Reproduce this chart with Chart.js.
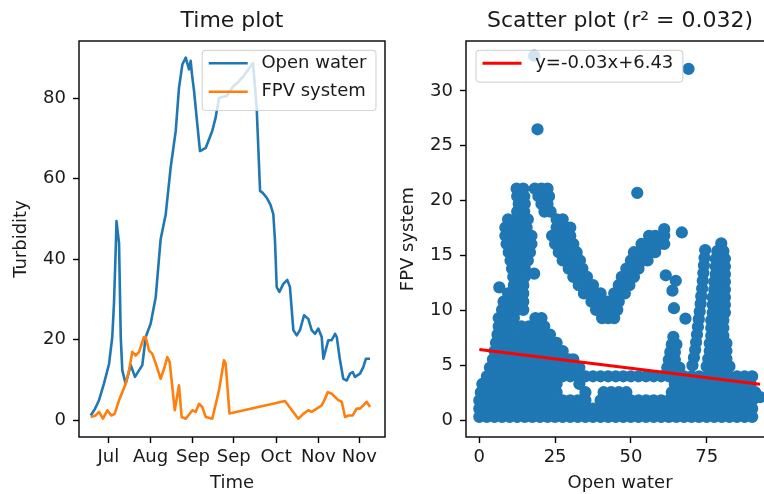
<!DOCTYPE html>
<html>
<head>
<meta charset="utf-8">
<script src="https://cdn.jsdelivr.net/npm/chart.js@4.4.1/dist/chart.umd.min.js"></script>
<style>
  html, body { margin: 0; padding: 0; background: #fff; overflow: hidden; width: 764px; height: 494px; }
  #wrap { position: relative; width: 764px; height: 494px; overflow: hidden; }
  canvas { position: absolute; top: 0; }
  #timeCanvas { left: 0; }
  #scatterCanvas { left: 387px; }
</style>
</head>
<body>
<div id="wrap">
  <canvas id="timeCanvas" width="400" height="494"></canvas>
  <canvas id="scatterCanvas" width="403" height="494"></canvas>
</div>
<script>
// ---------- Time series (day index from start of record, turbidity) ----------
const openWaterDays = [0.5, 3.5, 6.4, 9.9, 13.5, 15.8, 17, 18.2, 18.8, 19.6, 20.6, 21.8, 22.9, 25.3, 28.9, 31.9, 37.1, 39.5, 43, 46.6, 50.1, 53.7, 57.2, 60.8, 63.1, 65.5, 67.9, 69.2, 70.2, 71.4, 72.3, 73.8, 76.1, 78, 82.1, 86.7, 89.1, 91.5, 94.3, 97, 101.4, 105, 108.5, 112, 114.7, 115.6, 118.2, 120.6, 122.5, 125.3, 128, 130, 131.2, 132.4, 134.3, 137.1, 139.9, 141.8, 144.2, 146.6, 148.9, 151.8, 154.8, 157.2, 159.6, 161.9, 164.3, 165.5, 169, 171.4, 173.8, 175, 177.3, 179.6, 182.1, 184.4, 186.3, 187.9, 191.5, 193.8, 195.7, 198.6];
const openWaterTurbidity = [1.2, 2.8, 5.0, 9.1, 14.0, 20.7, 29, 42, 49.5, 47, 44, 20.7, 12.4, 9.1, 13.7, 10.8, 13.7, 20.7, 24, 30.6, 45, 51.2, 62.8, 71.9, 82.6, 88.4, 90.1, 88.5, 87.2, 89.3, 86, 81.8, 73.5, 66.9, 67.7, 71.9, 75.2, 80.1, 80.4, 80.6, 82.9, 84, 85.4, 87, 88.4, 88.7, 77.7, 57, 56.5, 55.3, 53.5, 51.2, 44.5, 33.1, 31.9, 33.9, 34.9, 33.1, 22.4, 21.1, 22.4, 26.1, 25.2, 22.4, 21.5, 22.8, 20.7, 15.3, 19.9, 19.9, 21.5, 20.7, 14.9, 10.3, 9.9, 11.6, 12, 10.8, 11.6, 13.2, 15.3, 15.3];

const fpvDays = [0.5, 4, 6.4, 9.2, 12.3, 15.1, 17.5, 20.6, 25.3, 27.7, 30, 32.4, 34.8, 38.3, 39.5, 41.8, 44.2, 47, 50.1, 52.5, 54.8, 56.5, 60.1, 63.1, 65, 67.9, 72.6, 75, 77.3, 79.6, 82.1, 86.7, 91.5, 95, 96.2, 98.9, 138.3, 147.7, 151.3, 154.8, 157.2, 160.8, 164.3, 166.2, 168.6, 171.4, 173.8, 176.1, 178.5, 180.9, 183.2, 186.3, 189.1, 191.5, 193.8, 196.2, 198.6];
const fpvTurbidity = [0.8, 1.2, 2.1, 0.4, 2.5, 1.2, 1.6, 5, 9.1, 12.4, 17, 16.1, 17, 20.7, 20.7, 17.4, 16.5, 13.7, 10.3, 12.8, 15.7, 14.5, 2.5, 8.7, 0.8, 0.4, 2.5, 2.1, 4.1, 3.3, 0.8, 0.4, 7.5, 14.9, 14.1, 1.7, 4.8, 0.4, 1.6, 2.5, 2.1, 2.9, 3.7, 5, 7, 6.6, 5.8, 5, 4.6, 0.8, 1.2, 1.2, 2.9, 2.9, 3.7, 4.6, 3.3];

const timeTickDays = [13, 43, 73, 102, 132, 162, 191];
const timeTickLabels = ['Jul', 'Aug', 'Sep', 'Sep', 'Oct', 'Nov', 'Nov'];
const turbidityTicks = [0, 20, 40, 60, 80];

// ---------- Scatter: open water (x) vs FPV system (y) ----------
// rows: [FPV value, [open water values at that FPV level]]
const bottomRows = [
  [0.3,  [0, 2.5, 5, 7.5, 10, 12.5, 15, 17.5, 20, 22.5, 25, 27.5, 30, 32.5, 35, 37.5, 40, 42.5, 45, 47.5, 50, 52.5, 55, 57.5, 60, 62.5, 65, 67.5, 70, 72.5, 75, 77.5, 80, 82.5, 85, 87.5, 90]],
  [1.05, [0, 2.5, 5, 7.5, 10, 12.5, 15, 17.5, 20, 22.5, 25, 27.5, 30, 32.5, 35, 37.5, 40, 42.5, 45, 47.5, 50, 52.5, 55, 57.5, 60, 62.5, 65, 67.5, 70, 72.5, 75, 77.5, 80, 82.5, 85, 87.5, 90]],
  [1.8,  [0, 2.5, 5, 7.5, 10, 12.5, 15, 17.5, 20, 22.5, 25, 27.5, 30, 32.5, 35, 40, 42.5, 45, 47.5, 50, 52.5, 55, 57.5, 60, 62.5, 65, 67.5, 70, 72.5, 75, 77.5, 80, 82.5, 85, 87.5, 90]],
  [2.55, [0.5, 3, 5.5, 8, 10.5, 13, 15.5, 18, 20.5, 23, 25.5, 35, 41, 43.5, 46, 48.5, 63.5, 66, 68.5, 71, 73.5, 76, 78.5, 81, 83.5, 86, 88.5, 91]],
  [3.3,  [1, 3.5, 6, 8.5, 11, 13.5, 16, 18.5, 21, 23.5, 25.5, 33, 64.5, 67, 69.5, 72, 74.5, 77, 79.5, 82, 84.5, 87, 89.5]],
  [4.0,  [2.5, 5, 7.5, 10, 12.5, 15, 17.5, 20, 22.5, 25, 27.5, 30, 32.5, 35, 37.5, 40, 42.5, 45, 47.5, 50, 52.5, 55, 57.5, 60, 62.5, 65, 67.5, 70, 72.5, 75, 77.5, 80, 82.5, 85, 87.5, 90]]
];
const leftBlobRows = [
  [4.8,   [3.5, 6, 8.5, 11, 13.5, 16, 18.5, 21, 23.5, 26, 28.5, 31, 33]],
  [5.55,  [4.5, 7, 9.5, 12, 14.5, 17, 19.5, 22, 24.5, 27, 29.5, 31]],
  [6.3,   [5, 7.5, 10, 12.5, 15, 17.5, 20, 22.5, 25, 27.5]],
  [7.05,  [5.5, 8, 10.5, 13, 15.5, 18, 20.5, 23, 25.5]],
  [7.8,   [6, 8.5, 11, 13.5, 16, 18.5, 21, 23.3]],
  [8.55,  [6.4, 8.9, 11.4, 13.9, 16.4, 18.9, 21.4]],
  [9.3,   [6.4, 8.9, 11.4, 18.5, 20.5]],
  [10.05, [7.5, 10, 12.5, 14.5]],
  [10.8,  [8, 10.5, 13, 14.5]],
  [11.55, [9.5, 12, 14.5]],
  [12.3,  [11.4, 13.2, 14.5]],
  [13.05, [11.2, 13.5, 15]],
  [13.8,  [10.8, 13, 15]],
  [14.55, [10.3, 12.7, 15, 16]],
  [15.3,  [9.7, 12.2, 14.7, 16.7]],
  [16.05, [9, 11.5, 14, 16.5, 17.2]],
  [16.8,  [8.6, 11, 13.5, 16, 17.2]],
  [17.55, [8.6, 11, 13.5, 15.6]],
  [18.3,  [9.5, 12, 14.5, 16]],
  [19.0,  [12.5, 14.8, 21.5, 23.5]],
  [19.7,  [13, 15, 20.5, 22.5]],
  [20.4,  [12.5, 14.8, 19.5, 21.5, 23]],
  [21.1,  [12.3, 14.5, 18.3, 20.5, 22.5]]
];
const fallingArmRows = [
  [18.3,  [25.5, 27.5]],
  [17.55, [25.5, 28, 30]],
  [16.8,  [24, 26, 28, 30]],
  [16.05, [25, 27, 29, 31]],
  [15.3,  [26.2, 28.2, 30.2, 32.1]],
  [14.55, [27.5, 29.5, 31.5, 33.2]],
  [13.8,  [29.5, 31.5, 34]],
  [13.05, [31, 33, 35.5]],
  [12.3,  [32.8, 35, 37.5]],
  [11.55, [34.5, 36.5, 38.5, 40]],
  [10.8,  [37, 39, 41, 42]],
  [10.05, [38.5, 40.5, 42.5, 44]],
  [9.3,   [40.5, 42.5, 44.5]]
];
const risingArmRows = [
  [10.05, [45.5]],
  [10.8,  [44, 46]],
  [11.55, [44.5, 46.5, 48]],
  [12.3,  [46, 48, 49.5]],
  [13.05, [47, 49, 51]],
  [13.8,  [48.5, 50.5, 52.5]],
  [14.55, [50, 52, 54, 55.5]],
  [15.3,  [51, 53, 55, 57, 58]],
  [16.05, [53.5, 55.5, 57.5, 59.5, 61]],
  [16.8,  [56, 58, 60, 61]]
];
const midColumnRows = [
  [7.6, [64]], [6.9, [63.5, 65]], [6.2, [63, 64.5]], [5.5, [62.5, 64.5]], [4.8, [62, 64, 66]]
];
const denseColumnRows = [
  [16.1, [79.8]], [15.4, [78.5, 80.5]], [14.7, [78, 80, 81]], [14.0, [78, 80, 81]], [13.3, [78, 80, 81]],
  [12.6, [77.5, 79.5, 81]], [11.9, [77.5, 79.5, 81]], [11.2, [77, 79, 81]], [10.5, [77, 79, 81]],
  [9.8, [77, 79, 81]], [9.1, [76.5, 78.5, 80.5]], [8.4, [76.5, 78.5, 80.5]], [7.7, [76.5, 78.5, 80.5]],
  [7.0, [76, 78, 80, 81.5]], [6.3, [76, 78, 80, 81.5]], [5.6, [75.5, 77.5, 79.5, 81.5]], [4.9, [75, 77, 79, 81, 82.5]]
];
// [open water, FPV system]
const chainColumn = [[74.5, 15.5], [74.3, 14.8], [74.1, 14.1], [73.9, 13.4], [73.7, 12.7], [73.5, 12.0], [73.2, 11.3], [73.0, 10.6], [72.7, 9.9], [72.4, 9.2], [72.1, 8.5], [71.8, 7.8], [71.5, 7.1], [71.2, 6.4], [70.8, 5.7], [70.3, 5.0]];
const strayPoints = [[18.1, 33.2], [19.2, 26.5], [69, 32], [52.1, 20.7], [61, 17.4], [66.8, 17.1], [61.5, 13.2], [64.8, 12.7], [63.7, 11.8], [64.2, 10.2], [68, 9.25], [6.6, 12.1], [18.1, 13.35], [92.6, 2.1]];

const regressionSlope = -0.034;
const regressionIntercept = 6.43;
const rSquared = 0.032;
const scatterXTicks = [0, 25, 50, 75];
const scatterYTicks = [0, 5, 10, 15, 20, 25, 30];

// ---------- helpers ----------
const TEXT = '#1a1a1a';
const BLUE = '#1f77b4';
const ORANGE = '#ff7f0e';
Chart.defaults.font.family = "'DejaVu Sans', sans-serif";
Chart.defaults.color = TEXT;

const zipXY = (xs, ys) => xs.map((x, i) => ({ x, y: ys[i] }));
const fromRows = rows => rows.flatMap(([fpv, opens]) => opens.map(x => ({ x, y: fpv })));
const fromPairs = pairs => pairs.map(([x, y]) => ({ x, y }));

function axis({ position, min, max, ticks, labels, title, size }) {
  const horizontal = position === 'bottom';
  return {
    type: 'linear',
    position, min, max,
    afterBuildTicks: s => { s.ticks = ticks.map(v => ({ value: v })); },
    afterFit: s => { if (horizontal) s.height = size; else s.width = size; },
    grid: { drawOnChartArea: false, drawTicks: true, tickLength: 6, tickWidth: 1.4, tickColor: '#000' },
    border: { display: false },
    ticks: {
      autoSkip: false, maxRotation: 0, minRotation: 0,
      padding: horizontal ? 4 : 7,
      font: { size: 18 }, color: TEXT,
      callback: labels ? (v, i) => labels[i] : v => String(v)
    },
    title: {
      display: true, text: title, font: { size: 18 }, color: TEXT,
      padding: horizontal ? { top: 0, bottom: 0 } : { top: 10.5, bottom: 0 }
    }
  };
}

// axes box drawn on all four sides
const frame = {
  id: 'frame',
  afterDatasetsDraw(chart) {
    const { ctx, chartArea: a } = chart;
    ctx.save();
    ctx.strokeStyle = '#000';
    ctx.lineWidth = 1.4;
    ctx.strokeRect(a.left, a.top, a.right - a.left, a.bottom - a.top);
    ctx.restore();
  }
};

// legend box placed inside the plotting area
const boxLegend = {
  id: 'boxLegend',
  afterDraw(chart, args, opts) {
    const { ctx, chartArea: a } = chart;
    const items = opts.datasets.map(i => chart.data.datasets[i]);
    ctx.save();
    ctx.font = "18px 'DejaVu Sans', sans-serif";
    const textW = Math.max(...items.map(d => ctx.measureText(d.label).width));
    const pad = 6.5, handle = 39, gap = 13.7, padR = 9.5;
    const w = pad + handle + gap + textW + padR;
    const h = 13 + (items.length - 1) * 28.4 + 18.8;
    const x = opts.corner === 'ne' ? a.right - 9 - w : a.left + 10;
    const y = a.top + 9.3;
    ctx.beginPath();
    ctx.roundRect(x, y, w, h, 3.5);
    ctx.fillStyle = 'rgba(255,255,255,0.8)';
    ctx.fill();
    ctx.strokeStyle = 'rgba(204,204,204,0.8)';
    ctx.lineWidth = 1.2;
    ctx.stroke();
    items.forEach((d, i) => {
      const cy = y + 13 + i * 28.4;
      ctx.strokeStyle = d.borderColor;
      ctx.lineWidth = d.borderWidth;
      ctx.beginPath();
      ctx.moveTo(x + pad, cy);
      ctx.lineTo(x + pad + handle, cy);
      ctx.stroke();
      ctx.fillStyle = TEXT;
      ctx.textBaseline = 'middle';
      ctx.textAlign = 'left';
      ctx.fillText(d.label, x + pad + handle + gap, cy);
    });
    ctx.restore();
  }
};

const titleOpts = text => ({
  display: true, text, fullSize: false, color: TEXT,
  font: { size: 22, weight: 'normal' },
  padding: { top: 8.2, bottom: 6.4 }
});

// ---------- time plot ----------
new Chart(document.getElementById('timeCanvas'), {
  type: 'line',
  data: {
    datasets: [
      { label: 'Open water', data: zipXY(openWaterDays, openWaterTurbidity), borderColor: BLUE, borderWidth: 2.6,
        pointRadius: 0, tension: 0, borderJoinStyle: 'round', fill: false, order: 1 },
      { label: 'FPV system', data: zipXY(fpvDays, fpvTurbidity), borderColor: ORANGE, borderWidth: 2.6,
        pointRadius: 0, tension: 0, borderJoinStyle: 'round', fill: false, order: 0 }
    ]
  },
  options: {
    responsive: false, animation: false, devicePixelRatio: 1,
    layout: { padding: { left: 0, right: 15, top: 0, bottom: 0 } },
    scales: {
      x: axis({ position: 'bottom', min: -7.8, max: 209.2, ticks: timeTickDays, labels: timeTickLabels, title: 'Time', size: 57 }),
      y: axis({ position: 'left', min: -4.15, max: 94.24, ticks: turbidityTicks, title: 'Turbidity', size: 79 })
    },
    plugins: {
      legend: { display: false },
      tooltip: { enabled: false },
      title: titleOpts('Time plot'),
      boxLegend: { datasets: [0, 1], corner: 'ne' }
    }
  },
  plugins: [frame, boxLegend]
});

// ---------- scatter plot ----------
const scatterPoints = [
  ...fromRows(bottomRows), ...fromRows(leftBlobRows), ...fromRows(fallingArmRows),
  ...fromRows(risingArmRows), ...fromRows(midColumnRows), ...fromRows(denseColumnRows),
  ...fromPairs(chainColumn), ...fromPairs(strayPoints)
];
const xs = scatterPoints.map(p => p.x);
const fitX = [Math.min(...xs), Math.max(...xs)];
const fitLine = fitX.map(x => ({ x, y: regressionSlope * x + regressionIntercept }));
const fitLabel = `y=${regressionSlope.toFixed(2)}x+${regressionIntercept.toFixed(2)}`;

new Chart(document.getElementById('scatterCanvas'), {
  type: 'scatter',
  data: {
    datasets: [
      { type: 'line', label: fitLabel, data: fitLine, borderColor: '#ff0000', borderWidth: 3,
        pointRadius: 0, fill: false, order: 0 },
      { label: 'points', data: scatterPoints, backgroundColor: BLUE, borderColor: BLUE,
        pointRadius: 5.25, borderWidth: 1.75, order: 1 }
    ]
  },
  options: {
    responsive: false, animation: false, devicePixelRatio: 1,
    layout: { padding: { left: 0, right: 16, top: 0, bottom: 0 } },
    scales: {
      x: axis({ position: 'bottom', min: -4.39, max: 97.2, ticks: scatterXTicks, title: 'Open water', size: 57 }),
      y: axis({ position: 'left', min: -1.53, max: 34.54, ticks: scatterYTicks, title: 'FPV system', size: 79 })
    },
    plugins: {
      legend: { display: false },
      tooltip: { enabled: false },
      title: titleOpts(`Scatter plot (r\u00B2 = ${rSquared.toFixed(3)})`),
      boxLegend: { datasets: [0], corner: 'nw' }
    }
  },
  plugins: [frame, boxLegend]
});
</script>
</body>
</html>
